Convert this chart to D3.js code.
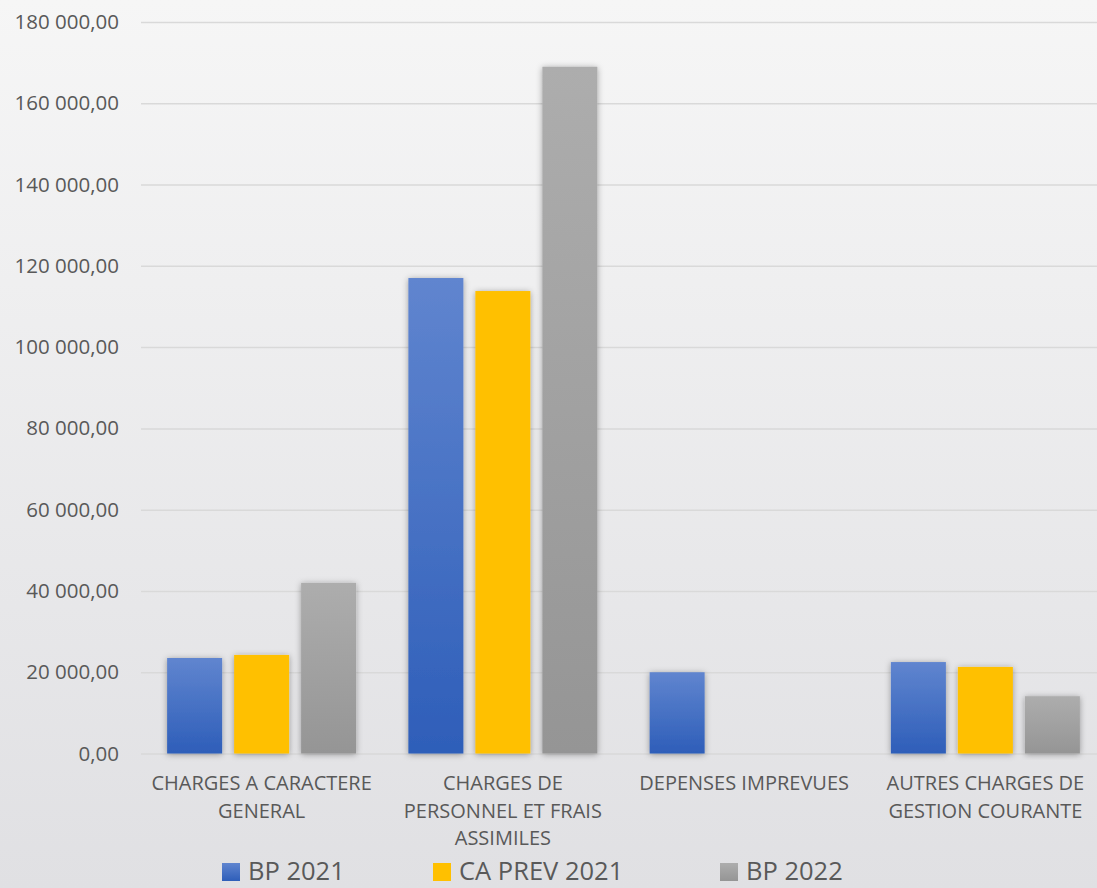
<!DOCTYPE html>
<html><head><meta charset="utf-8">
<script src="https://cdn.jsdelivr.net/npm/d3@7"></script>
<style>html,body{margin:0;padding:0;overflow:hidden;}svg{display:block;}</style>
</head><body>
<svg id="chart" width="1097" height="888"></svg>
<script>
const categories = ["CHARGES A CARACTERE\nGENERAL", "CHARGES DE\nPERSONNEL ET FRAIS\nASSIMILES", "DEPENSES IMPREVUES", "AUTRES CHARGES DE\nGESTION COURANTE"];
const seriesNames = ["BP 2021", "CA PREV 2021", "BP 2022"];
const bp2021 = [23500, 117000, 20000, 22500];
const caPrev2021 = [24250, 113800, 0, 21300];
const bp2022 = [42000, 169000, 0, 14100];
const yTicks = [0, 20000, 40000, 60000, 80000, 100000, 120000, 140000, 160000, 180000];

const W = 1097, H = 888;
const svg = d3.select("#chart");
const defs = svg.append("defs");

const bg = defs.append("linearGradient").attr("id","bg").attr("x1",0).attr("y1",0).attr("x2",0).attr("y2",1);
bg.append("stop").attr("offset","0%").attr("stop-color","#f6f6f6");
bg.append("stop").attr("offset","100%").attr("stop-color","#e0e0e3");

function grad(id, top, bottom){
  const g = defs.append("linearGradient").attr("id",id).attr("x1",0).attr("y1",0).attr("x2",0).attr("y2",1);
  g.append("stop").attr("offset","0%").attr("stop-color",top);
  g.append("stop").attr("offset","100%").attr("stop-color",bottom);
}
grad("gBlue","#6085cf","#2e5eb9");
grad("gYellow","#ffc000","#ffc000");
grad("gGrey","#adadad","#959595");
const fills = ["url(#gBlue)","url(#gYellow)","url(#gGrey)"];

const sh = defs.append("filter").attr("id","shadow").attr("x","-30%").attr("y","-10%").attr("width","160%").attr("height","120%");
sh.append("feDropShadow").attr("dx",0).attr("dy",1).attr("stdDeviation",3).attr("flood-color","#000").attr("flood-opacity",0.35);

svg.append("rect").attr("width",W).attr("height",H).attr("fill","url(#bg)");

const y = d3.scaleLinear().domain([0,180000]).range([753.5,22]);
const x0 = d3.scaleBand().domain(categories).range([141,1106]).padding(0);
const x1 = d3.scaleBand().domain(seriesNames).range([0,x0.bandwidth()]).paddingInner(0.179).paddingOuter(0.39);

const loc = d3.formatLocale({decimal:",", thousands:" ", grouping:[3], currency:["","€"]});
const fmt = loc.format(",.2f");

const yAxis = d3.axisLeft(y).tickValues(yTicks).tickSize(-(1106-141)).tickFormat(fmt).tickPadding(22);
const ga = svg.append("g").attr("transform","translate(141,0)").call(yAxis);
ga.select(".domain").remove();
ga.selectAll(".tick line").attr("stroke","#d9d9d9").attr("stroke-width",1.5);
ga.selectAll(".tick text").attr("fill","#595959").attr("font-family","'Open Sans', sans-serif").attr("font-size","20.5px");

const data = [bp2021, caPrev2021, bp2022];
const groups = svg.append("g").selectAll("g").data(categories).join("g")
  .attr("transform", d => `translate(${x0(d)},0)`);
groups.selectAll("rect").data((d,i) => seriesNames.map((s,j) => ({s, j, v: data[j][i]})))
  .join("rect")
  .filter(d => d.v > 0)
  .attr("x", d => x1(d.s))
  .attr("width", x1.bandwidth())
  .attr("y", d => y(d.v))
  .attr("height", d => y(0) - y(d.v))
  .attr("fill", d => fills[d.j])
  .attr("filter","url(#shadow)");

const lab = svg.append("g").attr("font-family","'Open Sans', sans-serif").attr("font-size","20px").attr("fill","#595959").attr("text-anchor","middle");
categories.forEach(c => {
  const t = lab.append("text").attr("x", x0(c) + x0.bandwidth()/2).attr("y", 790);
  c.split("\n").forEach((line,k) => {
    t.append("tspan").attr("x", x0(c) + x0.bandwidth()/2).attr("dy", k===0 ? 0 : 27.5).text(line);
  });
});

const legX = [222, 433, 720];
const leg = svg.append("g");
seriesNames.forEach((s,j) => {
  leg.append("rect").attr("x", legX[j]).attr("y", 863).attr("width",18).attr("height",18).attr("fill", fills[j]);
  leg.append("text").attr("x", legX[j]+26).attr("y", 880).attr("font-family","'Open Sans', sans-serif").attr("font-size","25.5px").attr("fill","#595959").text(s);
});
</script>
</body></html>
